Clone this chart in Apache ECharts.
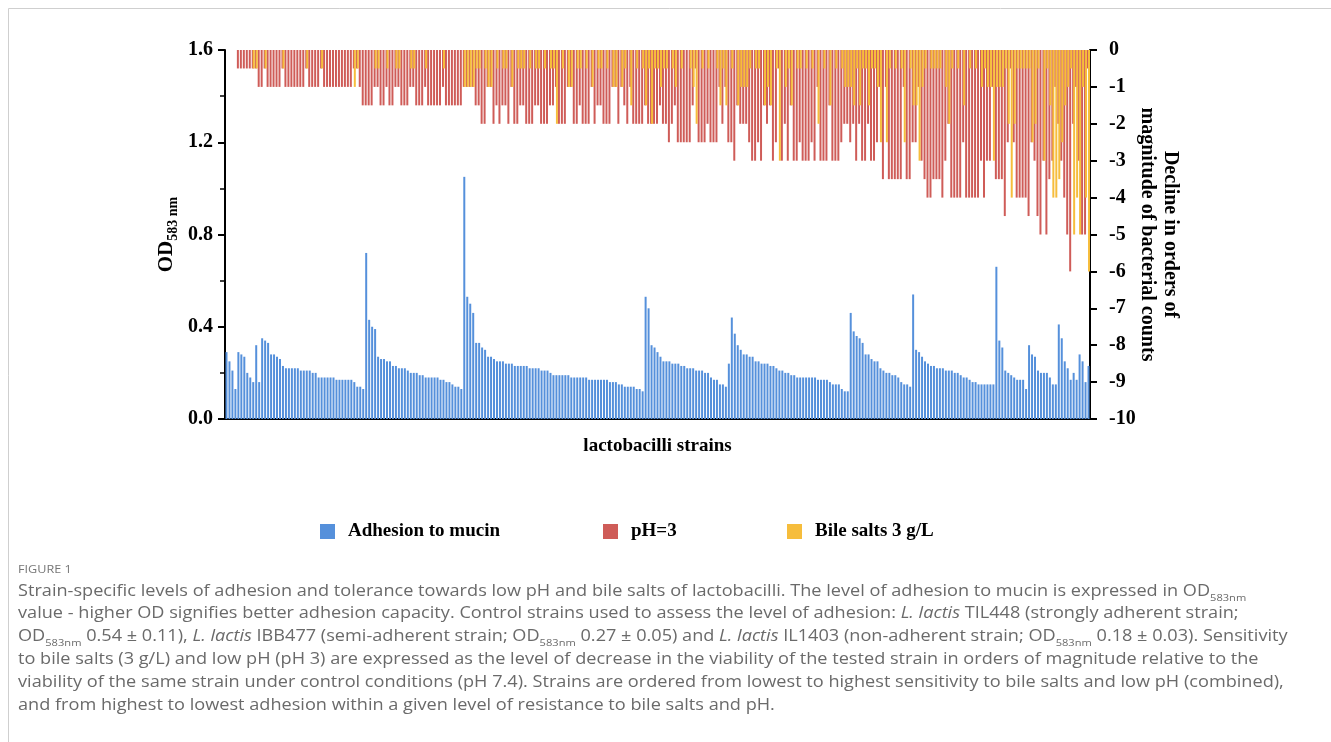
<!DOCTYPE html>
<html>
<head>
<meta charset="utf-8">
<script src="https://cdn.jsdelivr.net/npm/echarts@6/dist/echarts.min.js"></script>
<style>
  html, body { margin: 0; padding: 0; background: #fff; }
  #main { width: 1331px; height: 742px; }
</style>
</head>
<body>
<div id="main"></div>
<script>
// adhesion to mucin (OD583nm), one value per strain, left axis
var adhesion = [
  0.29,0.25,0.21,0.13,
  0.29,0.28,0.27,0.20,0.18,0.16,
  0.32,0.16,
  0.35,0.34,0.33,0.28,0.28,0.27,0.26,0.23,0.22,0.22,0.22,0.22,0.22,0.21,0.21,0.21,0.21,0.20,0.20,0.18,0.18,0.18,0.18,0.18,0.18,0.17,0.17,0.17,0.17,0.17,0.17,0.16,0.14,0.14,0.13,
  0.72,0.43,0.40,0.39,0.27,0.26,0.26,0.25,0.25,0.23,0.23,0.22,0.22,0.22,0.21,0.20,0.20,0.20,0.19,0.19,0.18,0.18,0.18,0.18,0.18,0.17,0.17,0.16,0.16,0.15,0.14,0.14,0.13,
  1.05,0.53,0.50,0.46,0.33,0.33,0.31,0.30,0.27,0.27,0.26,0.25,0.25,0.25,0.24,0.24,0.24,0.23,0.23,0.23,0.23,0.23,0.22,0.22,0.22,0.22,0.21,0.21,0.21,0.20,0.19,0.19,0.19,0.19,0.19,0.19,0.18,0.18,0.18,0.18,0.18,0.18,0.17,0.17,0.17,0.17,0.17,0.17,0.17,0.16,0.16,0.16,0.15,0.15,0.14,0.14,0.14,0.14,0.13,0.13,0.12,
  0.53,0.48,0.32,0.31,0.29,0.27,0.25,0.25,0.25,0.24,0.24,0.24,0.23,0.23,0.22,0.22,0.22,0.21,0.21,0.21,0.20,0.20,0.18,0.17,0.17,0.15,0.15,0.14,0.24,
  0.44,0.37,0.32,0.30,0.28,0.28,0.27,0.27,0.25,0.25,0.24,0.24,0.24,0.23,0.23,0.22,0.21,0.21,0.20,0.20,0.19,0.19,0.18,0.18,0.18,0.18,0.18,0.18,0.18,0.17,0.17,0.17,0.17,0.16,0.15,0.15,0.15,0.13,0.12,0.12,
  0.46,0.38,0.36,0.35,0.33,0.28,0.28,0.26,0.25,0.25,0.22,0.21,0.20,0.20,0.19,0.19,0.18,0.16,0.15,0.15,0.14,
  0.54,0.30,0.29,0.27,0.25,0.24,0.23,0.23,0.22,0.22,0.22,0.21,0.21,0.21,0.20,0.20,0.19,0.18,0.18,0.17,0.16,0.16,0.15,0.15,0.15,0.15,0.15,0.15,
  0.66,0.34,0.31,0.21,0.20,0.19,0.18,0.17,0.17,0.17,0.13,0.32,0.28,0.27,0.21,0.20,0.20,0.20,0.18,0.15,0.15,0.41,0.35,0.25,0.22,0.17,0.20,0.17,0.28,0.25,0.16,0.23
];

// decline in orders of magnitude at pH 3, right axis
var phDecline = [
  0,0,0,0,
  -0.5,-0.5,-0.5,-0.5,-0.5,-0.5,
  -0.5,-1,
  -1,-0.5,-1,-1,-1,-1,-1,-0.5,-1,-1,-1,-1,-1,-1,-1,-0.5,-1,-1,-1,-1,-0.5,-1,-1,-1,-1,-1,-1,-1,-1,-1,-1,-0.5,-0.5,-1,-1.5,
  -1.5,-1.5,-1.5,-1,-1,-1.5,-1.5,-1,-1.5,-1.5,-1,-1,-1.5,-1.5,-1.5,-1,-1,-1.5,-1.5,-1.5,-1,-1.5,-1.5,-1.5,-1.5,-1.5,-1,-1.5,-1.5,-1.5,-1.5,-1.5,-1.5,
  -1,-1,-1,-1,-1.5,-1.5,-2,-2,-1,-1,-2,-1.5,-2,-1.5,-1.5,-2,-1,-2,-2,-1.5,-1.5,-2,-2,-2,-1.5,-1.5,-2,-2,-2,-1.5,-1.5,-1,-2,-2,-2,-1,-1,-2,-2,-1.5,-2,-2,-2,-1,-2,-1.5,-1.5,-2,-2,-2,-1,-1,-2,-1,-1.5,-2,-1,-2,-2,-2,-2,
  -1.5,-2,-2,-2,-2,-1.5,-2,-2,-2.5,-2,-1.5,-2.5,-2.5,-2.5,-2.5,-2.5,-1.5,-0.5,-2.5,-2.5,-2.5,-2,-2.5,-2.5,-2.5,-1,-2,-1,-2.5,
  -2.5,-3,-1.5,-2,-2,-2,-2.5,-3,-3,-2.5,-3,-1.5,-2,-1.5,-3,-2.5,-0.5,-3,-2,-3,-1.5,-3,-3,-2.5,-3,-3,-3,-2.5,-3,-1,-3,-3,-3,-1.5,-3,-3,-3,-2.5,-2,-2,
  -2.5,-2,-3,-2,-3,-3,-2,-3,-3,-2.5,-1,-3.5,-1,-3.5,-3.5,-3.5,-3.5,-3.5,-1,-3.5,-3.5,
  -2.5,-2.5,-1,-3,-3.5,-4,-4,-3.5,-3.5,-3.5,-4,-3,-2,-4,-4,-4,-4,-2.5,-4,-4,-4,-4,-4,-3,-4,-3,-3,-1,
  -3.5,-3.5,-3.5,-4.5,-2.5,-0.5,-2.5,-4,-4,-4,-4,-4.5,-2.5,-3,-4.5,-5,-3,-5,-3.5,-3,-1,-2,-3,-4,-5,-6,-2,-1,-3,-5,-5,-0.5
];

// decline in orders of magnitude with bile salts 3 g/L, right axis
var bileDecline = [
  0,0,0,0,
  0,0,0,0,0,-0.5,
  -0.5,0,
  0,-0.5,0,0,0,0,0,-0.5,0,0,0,0,0,0,0,-0.5,0,0,0,0,-0.5,0,0,0,0,0,0,0,0,0,0,-1,-0.5,0,0,
  0,0,0,-0.5,-0.5,0,0,-0.5,0,0,-0.5,-0.5,0,0,0,-0.5,-0.5,0,0,0,-0.5,0,0,0,0,0,-0.5,0,0,0,0,0,0,
  -1,-1,-1,-1,-0.5,-0.5,0,-0.5,-1,-1,0,-0.5,0,-0.5,-0.5,0,-1,0,-0.5,-0.5,-0.5,0,-0.5,0,-0.5,-0.5,0,-0.5,0,-0.5,-0.5,-2,0,-0.5,0,-1,-1,0,-0.5,-0.5,0,-0.5,0,-1,0,-0.5,-0.5,0,-0.5,0,-1,-1,0,-1,-0.5,0,-1.5,0,-0.5,0,-0.5,
  -1.5,-0.5,-2,-0.5,-0.5,-1,-0.5,-0.5,0,-0.5,-1,0,-0.5,0,0,-0.5,-1,-2,0,-0.5,0,-0.5,0,0,-0.5,-1.5,-0.5,-1.5,0,
  -0.5,0,-1.5,-1,-1,-1,-0.5,0,-0.5,-0.5,0,-1.5,-1,-1.5,0,-0.5,-3,0,-1,-0.5,-1.5,0,-0.5,-0.5,0,-0.5,0,-0.5,0,-2,0,-0.5,0,-1.5,0,-0.5,0,-0.5,-1,-1,
  -1,-1.5,-0.5,-1.5,-0.5,-0.5,-1.5,-0.5,-0.5,-1,-2.5,0,-2.5,-0.5,0,-0.5,0,-0.5,-2.5,0,-0.5,
  -1.5,-1.5,-3,-1,-0.5,0,-0.5,-0.5,-0.5,-0.5,0,-1,-2,-0.5,0,-0.5,0,-1.5,0,-0.5,0,-0.5,0,-1,-0.5,-1,-1,-3,
  -1,-1,-1,-0.5,-2,-4,-2,-0.5,-0.5,-0.5,-0.5,-0.5,-2.5,-2,-0.5,0,-3,-0.5,-1.5,-4,-4,-3.5,-2.5,-1.5,-1,-0.5,-5,-4,-5,-1,-4,-6
];

var strains = adhesion.map(function (v, i) { return 'S' + (i + 1); });

var leftTicks = [0, 1.6, 0.4];
var rightTicks = [-10, 0, 1];

var serif = '"Liberation Serif", "Times New Roman", serif';
var capFont = '"Open Sans", "Noto Sans", sans-serif';

var myChart = echarts.init(document.getElementById('main'));

// caption lines are stretched a little to match the wide journal typeface
function captionLine(y, text) {
  return {
    type: 'text', x: 18, y: y, scaleX: 1.17, scaleY: 1, silent: true,
    style: {
      text: text, fontFamily: capFont, fontSize: 15.5, fill: '#6a6a6a', lineHeight: 22, verticalAlign: 'middle',
      rich: {
        i: { fontFamily: capFont, fontSize: 15.5, fontStyle: 'italic', fill: '#6a6a6a', lineHeight: 22 },
        s: { fontFamily: capFont, fontSize: 9.5, fill: '#6a6a6a', verticalAlign: 'bottom', lineHeight: 12 }
      }
    }
  };
}

var legendCommon = {
  top: 517, itemWidth: 15, itemHeight: 15, icon: 'rect', selectedMode: false,
  textStyle: { fontFamily: serif, fontSize: 19, fontWeight: 'bold', color: '#000', padding: [0, 0, 0, 8] }
};

var option = {
  animation: false,
  grid: { left: 225, right: 241, top: 50, bottom: 323 },
  legend: [
    Object.assign({ left: 315, data: ['Adhesion to mucin'] }, legendCommon),
    Object.assign({ left: 598, data: ['pH=3'] }, legendCommon),
    Object.assign({ left: 782, data: ['Bile salts 3 g/L'] }, legendCommon)
  ],
  xAxis: [{
    type: 'category', data: strains, position: 'bottom',
    name: 'lactobacilli strains', nameLocation: 'middle', nameGap: 18,
    nameTextStyle: { fontFamily: serif, fontSize: 19, fontWeight: 'bold', color: '#000' },
    axisLine: { lineStyle: { color: '#000', width: 2 } },
    axisTick: { interval: 0, length: 5, lineStyle: { color: '#222', width: 1 } },
    axisLabel: { show: false }
  }, {
    type: 'category', data: strains, show: false, position: 'top'
  }],
  yAxis: [{
    type: 'value', min: leftTicks[0], max: leftTicks[1], interval: leftTicks[2],
    name: '{a|OD}{b|583 nm}', nameLocation: 'middle', nameGap: 45, nameRotate: 90, nameMoveOverlap: false,
    nameTextStyle: {
      rich: {
        a: { fontFamily: serif, fontSize: 21, fontWeight: 'bold', color: '#000', lineHeight: 26 },
        b: { fontFamily: serif, fontSize: 14, fontWeight: 'bold', color: '#000', verticalAlign: 'bottom', lineHeight: 14 }
      }
    },
    axisLine: { show: true, lineStyle: { color: '#000', width: 2 } },
    axisTick: { show: true, length: 7, lineStyle: { color: '#000', width: 2 } },
    minorTick: { show: true, splitNumber: 2, length: 5, lineStyle: { color: '#000', width: 1.5 } },
    splitLine: { show: false },
    axisLabel: {
      fontFamily: serif, fontSize: 20, fontWeight: 'bold', color: '#000', margin: 12,
      formatter: function (v) { return v.toFixed(1); }
    }
  }, {
    type: 'value', position: 'right', min: rightTicks[0], max: rightTicks[1], interval: rightTicks[2],
    name: 'Decline in orders of\nmagnitude of bacterial counts', nameLocation: 'middle', nameGap: 46, nameRotate: -90,
    nameMoveOverlap: false,
    nameTextStyle: { fontFamily: serif, fontSize: 20, fontWeight: 'bold', color: '#000', lineHeight: 23 },
    axisLine: { show: true, lineStyle: { color: '#000', width: 2 } },
    axisTick: { show: true, length: 7, lineStyle: { color: '#000', width: 2 } },
    splitLine: { show: false },
    axisLabel: { fontFamily: serif, fontSize: 20, fontWeight: 'bold', color: '#000', margin: 19 }
  }],
  series: [{
    name: 'Adhesion to mucin', type: 'bar', xAxisIndex: 0, yAxisIndex: 0,
    data: adhesion, barWidth: 2, itemStyle: { color: '#5590db' }
  }, {
    name: 'pH=3', type: 'bar', xAxisIndex: 1, yAxisIndex: 1,
    data: phDecline, barWidth: 2, barGap: '-50%', itemStyle: { color: '#cf5c58' }
  }, {
    name: 'Bile salts 3 g/L', type: 'bar', xAxisIndex: 1, yAxisIndex: 1,
    data: bileDecline, barWidth: 2, barGap: '-50%', itemStyle: { color: '#f6bd3c' }
  }],
  graphic: [
    { type: 'polyline', silent: true, shape: { points: [[8.5, 742], [8.5, 8.5], [1331, 8.5]] },
      style: { stroke: '#cfcfcf', lineWidth: 1, fill: null } },
    { type: 'text', x: 18, y: 570, scaleX: 1.1, silent: true,
      style: { text: 'FIGURE 1', fontFamily: capFont, fontSize: 11.5, fill: '#777', verticalAlign: 'middle' } },
    captionLine(592, 'Strain-specific levels of adhesion and tolerance towards low pH and bile salts of lactobacilli. The level of adhesion to mucin is expressed in OD{s|583nm}'),
    captionLine(614, 'value - higher OD signifies better adhesion capacity. Control strains used to assess the level of adhesion: {i|L. lactis} TIL448 (strongly adherent strain;'),
    captionLine(637, 'OD{s|583nm} 0.54 ± 0.11), {i|L. lactis} IBB477 (semi-adherent strain; OD{s|583nm} 0.27 ± 0.05) and {i|L. lactis} IL1403 (non-adherent strain; OD{s|583nm} 0.18 ± 0.03). Sensitivity'),
    captionLine(660, 'to bile salts (3 g/L) and low pH (pH 3) are expressed as the level of decrease in the viability of the tested strain in orders of magnitude relative to the'),
    captionLine(683, 'viability of the same strain under control conditions (pH 7.4). Strains are ordered from lowest to highest sensitivity to bile salts and low pH (combined),'),
    captionLine(706, 'and from highest to lowest adhesion within a given level of resistance to bile salts and pH.')
  ]
};

myChart.setOption(option);
</script>
</body>
</html>
